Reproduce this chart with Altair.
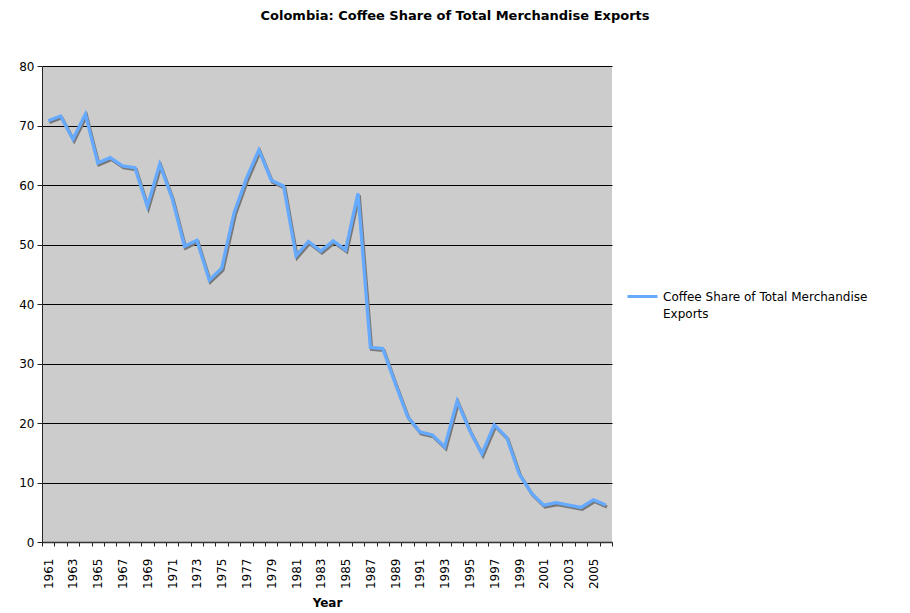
import altair as alt
import pandas as pd

years = list(range(1961, 2007))
shares = [70.8, 71.6, 67.7, 71.9, 63.7, 64.6, 63.2, 62.9, 56.4, 63.5,
          57.8, 49.7, 50.7, 44.0, 46.0, 55.3, 61.1, 65.9, 60.8, 59.8,
          48.1, 50.5, 48.9, 50.6, 49.1, 58.6, 32.7, 32.5, 26.7, 21.1,
          18.5, 18.0, 16.0, 23.7, 18.8, 14.8, 19.7, 17.6, 11.5, 8.2,
          6.2, 6.6, 6.2, 5.8, 7.1, 6.2]
series_name = "Coffee Share of Total Merchandise Exports"
y_ticks = [0, 10, 20, 30, 40, 50, 60, 70, 80]

df = pd.DataFrame({"Year": years, "Share": shares, "Series": [series_name] * len(years)})

FONT = "DejaVu Sans"
BLUE = "#66aaff"

x_enc = alt.X(
    "Year:O",
    scale=alt.Scale(type="band", paddingInner=0, paddingOuter=0),
    axis=alt.Axis(
        title="Year",
        titleFont=FONT,
        titleFontSize=12,
        titleFontWeight="bold",
        titleColor="black",
        titlePadding=9,
        labelAngle=270,
        labelAlign="right",
        labelBaseline="middle",
        labelFont=FONT,
        labelFontSize=12,
        labelColor="black",
        labelPadding=12,
        labelExpr="datum.value % 2 == 1 ? datum.label : ''",
        labelOverlap=False,
        tickBand="extent",
        tickSize=4,
        tickColor="#222222",
        domainColor="#333333",
        domainWidth=1.5,
        grid=False,
    ),
)
y_enc = alt.Y(
    "Share:Q",
    scale=alt.Scale(domain=[0, 80], nice=False),
    axis=alt.Axis(
        title=None,
        values=y_ticks,
        labelFont=FONT,
        labelFontSize=12,
        labelColor="black",
        labelPadding=3,
        tickSize=5,
        tickColor="#222222",
        domainColor="#222222",
        grid=True,
        gridColor="black",
        gridWidth=1,
    ),
)

shadow = alt.Chart(df).mark_line(
    color="#777777", strokeWidth=3.3, xOffset=1.2, yOffset=1.8
).encode(x=x_enc, y=y_enc)

line = alt.Chart(df).mark_line(strokeWidth=3.3).encode(
    x=x_enc,
    y=y_enc,
    color=alt.Color(
        "Series:N",
        scale=alt.Scale(domain=[series_name], range=[BLUE]),
        legend=alt.Legend(
            title=None,
            orient="none",
            legendX=584,
            legendY=214,
            symbolType="stroke",
            symbolSize=900,
            symbolStrokeWidth=3,
            labelFont=FONT,
            labelFontSize=12,
            labelColor="black",
            labelLimit=400,
            labelOffset=4,
            labelExpr="['Coffee Share of Total Merchandise', 'Exports']",
            labelBaseline="middle",
        ),
    ),
)

chart = (
    alt.layer(shadow, line)
    .properties(
        width=570,
        height=476,
        autosize=alt.AutoSizeParams(type="none"),
        padding={"left": 42, "top": 66, "right": 298, "bottom": 71},
        title=alt.TitleParams(
            "Colombia: Coffee Share of Total Merchandise Exports",
            font=FONT,
            fontSize=13,
            fontWeight="bold",
            color="black",
            anchor="middle",
            dx=128,
            offset=37,
        ),
        background="white",
    )
    .configure(style={"guide-label": {"lineHeight": 17}})
    .configure_view(fill="#cccccc", stroke=None)
)

chart.save("out.html", embed_options={"renderer": "svg", "actions": False})
